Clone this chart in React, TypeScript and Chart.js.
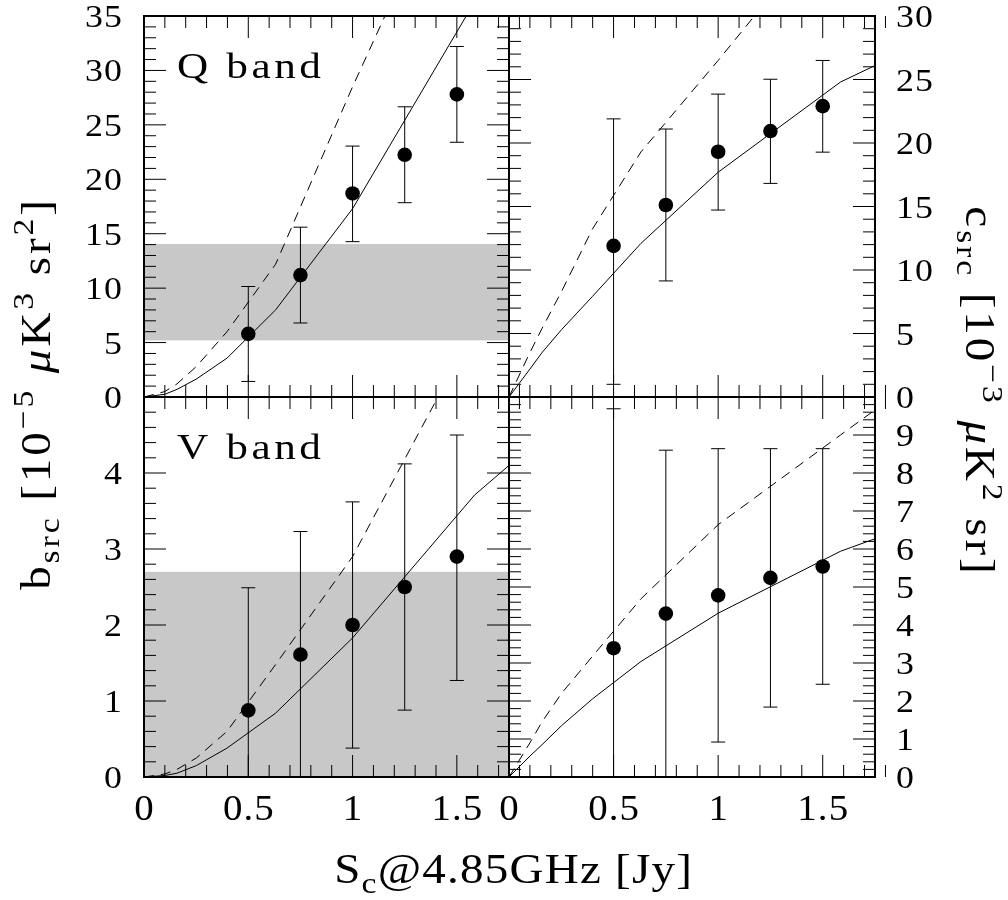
import React, { useEffect, useRef } from "react";
import { Chart, registerables } from "chart.js";
Chart.register(...registerables);

// ---------------- data ----------------
const sourceFlux = [0.5, 0.75, 1.0, 1.25, 1.5];
const modelFlux = [0, 0.1, 0.158, 0.251, 0.398, 0.631, 1.0, 1.585, 2.512];

const qBsrc = [5.8, 11.2, 18.7, 22.25, 27.8];
const qBsrcLow = [1.43, 6.8, 14.27, 17.85, 23.4];
const qBsrcHigh = [10.15, 15.6, 23.05, 26.66, 32.2];
const qBsrcModel = [0, 0.25, 0.7, 1.65, 3.57, 8.0, 17.3, 36.3, 60];
const qBsrcModelDashed = [0, 0.5, 1.2, 2.8, 6.0, 12.2, 28.5, 53, 90];
const qBsrcBand = [5.2, 14.05];

const qCsrc = [11.9, 15.12, 19.31, 20.94, 22.9];
const qCsrcLow = [1.0, 9.14, 14.72, 16.82, 19.28];
const qCsrcHigh = [21.9, 21.1, 23.85, 25.02, 26.5];
const qCsrcModel = [0, 2.2, 3.5, 5.3, 7.9, 12.1, 17.7, 24.8, 32.1];
const qCsrcModelDashed = [0, 3.5, 5.4, 8.3, 13.2, 19.3, 26.5, 38.3, 57];

const vBsrc = [0.876, 1.61, 2.0, 2.5, 2.9];
const vBsrcLow = [-0.74, -0.01, 0.38, 0.88, 1.27];
const vBsrcHigh = [2.49, 3.23, 3.62, 4.12, 4.5];
const vBsrcModel = [0, 0.02, 0.05, 0.15, 0.38, 0.84, 1.83, 3.71, 5.9];
const vBsrcModelDashed = [0, 0.04, 0.1, 0.25, 0.6, 1.48, 2.9, 5.9, 10];
const vBsrcBand = [-1, 2.7];

const vCsrc = [3.39, 4.3, 4.78, 5.24, 5.54];
const vCsrcLow = [-2.9, -0.02, 0.92, 1.84, 2.44];
const vCsrcHigh = [9.69, 8.6, 8.64, 8.64, 8.64];
const vCsrcModel = [0, 0.55, 0.85, 1.35, 2.05, 3.04, 4.31, 5.94, 7.79];
const vCsrcModelDashed = [0, 0.9, 1.45, 2.2, 3.17, 4.69, 6.64, 9.0, 12.7];

const xTicks = [0, 0.5, 1, 1.5];
const xTickLabels = ["0", "0.5", "1", "1.5"];
const yTicksQb = [0, 5, 10, 15, 20, 25, 30, 35];
const yTickLabelsQb = ["0", "5", "10", "15", "20", "25", "30", "35"];
const yTicksQc = [0, 5, 10, 15, 20, 25, 30];
const yTickLabelsQc = ["0", "5", "10", "15", "20", "25", "30"];
const yTicksVb = [0, 1, 2, 3, 4, 5];
const yTickLabelsVb = ["0", "1", "2", "3", "4", ""];
const yTicksVc = [0, 1, 2, 3, 4, 5, 6, 7, 8, 9, 10];
const yTickLabelsVc = ["0", "1", "2", "3", "4", "5", "6", "7", "8", "9", ""];

const panelNames = ["Q band", "V band"];

// ---------------- layout ----------------
const W = 1008;
const H = 900;
const COLS = [144, 509, 875];
const ROWS = [16, 397, 777];
const X_MAX = 1.75;
const X_MINOR = 0.1;
const FONT = '"Liberation Serif", "Times New Roman", serif';

type Run = { t: string; s: number; dy?: number; it?: boolean };
const leftTitle: Run[] = [
  { t: "b", s: 42 },
  { t: "src", s: 30, dy: 9 },
  { t: " [10", s: 42 },
  { t: "\u22125", s: 30, dy: -17 },
  { t: " ", s: 42 },
  { t: "\u03bc", s: 42, it: true },
  { t: "K", s: 42 },
  { t: "3", s: 30, dy: -17 },
  { t: " sr", s: 42 },
  { t: "2", s: 30, dy: -17 },
  { t: "]", s: 42 },
];
const rightTitle: Run[] = [
  { t: "c", s: 42 },
  { t: "src", s: 30, dy: 9 },
  { t: " [10", s: 42 },
  { t: "\u22123", s: 30, dy: -17 },
  { t: " ", s: 42 },
  { t: "\u03bc", s: 42, it: true },
  { t: "K", s: 42 },
  { t: "2", s: 30, dy: -17 },
  { t: " sr]", s: 42 },
];
const bottomTitle: Run[] = [
  { t: "S", s: 42 },
  { t: "c", s: 30, dy: 10 },
  { t: "@4.85GHz [Jy]", s: 42 },
];

// draws text runs with horizontal stretch sx and letter spacing ls, anchored at (x, y baseline)
function drawRuns(
  ctx: CanvasRenderingContext2D,
  runs: Run[],
  x0: number,
  y0: number,
  angle: number,
  sx: number,
  ls: number,
  align: "left" | "center" | "right"
) {
  ctx.save();
  ctx.translate(x0, y0);
  ctx.rotate(angle);
  ctx.scale(sx, 1);
  ctx.fillStyle = "#000";
  ctx.textAlign = "left";
  ctx.textBaseline = "alphabetic";
  (ctx as any).letterSpacing = "0px";
  const fontOf = (r: Run) => `${r.it ? "italic " : ""}${r.s}px ${FONT}`;
  let total = 0;
  let chars = 0;
  const ws = runs.map((r) => {
    ctx.font = fontOf(r);
    const w = ctx.measureText(r.t).width;
    total += w;
    chars += r.t.length;
    return w;
  });
  total += ls * (chars - 1);
  (ctx as any).letterSpacing = ls + "px";
  let x = align === "left" ? 0 : align === "center" ? -total / 2 : -total;
  runs.forEach((r, i) => {
    ctx.font = fontOf(r);
    ctx.fillText(r.t, x, r.dy || 0);
    x += ws[i] + ls * r.t.length;
  });
  ctx.restore();
}

type PanelOpts = {
  yMax: number;
  yMinor: number;
  yTicks: number[];
  yLabels: string[];
  yMajorEvery: number;
  labelSide: "left" | "right";
  showX: boolean;
  name?: string;
  band?: number[];
  pts: number[];
  lo: number[];
  hi: number[];
  titles?: boolean;
};

const decoPlugin = {
  id: "panelDeco",
  beforeDatasetsDraw(chart: any, _a: any, o: PanelOpts) {
    const { ctx, chartArea: a, scales } = chart;
    const xs = scales.x;
    const ys = scales.y;
    ctx.save();
    ctx.beginPath();
    ctx.rect(a.left, a.top, a.right - a.left, a.bottom - a.top);
    ctx.clip();
    if (o.band) {
      const y1 = ys.getPixelForValue(o.band[1]);
      const y0 = ys.getPixelForValue(o.band[0]);
      ctx.fillStyle = "rgb(200,200,200)";
      ctx.fillRect(a.left, y1, a.right - a.left, y0 - y1);
    }
    ctx.strokeStyle = "#000";
    ctx.lineWidth = 1;
    ctx.beginPath();
    sourceFlux.forEach((xv, i) => {
      const px = xs.getPixelForValue(xv);
      const pl = ys.getPixelForValue(o.lo[i]);
      const ph = ys.getPixelForValue(o.hi[i]);
      ctx.moveTo(px, pl);
      ctx.lineTo(px, ph);
      ctx.moveTo(px - 7, pl);
      ctx.lineTo(px + 7, pl);
      ctx.moveTo(px - 7, ph);
      ctx.lineTo(px + 7, ph);
    });
    ctx.stroke();
    ctx.restore();
  },
  afterDraw(chart: any, _a: any, o: PanelOpts) {
    const { ctx, chartArea: a, scales } = chart;
    const xs = scales.x;
    const ys = scales.y;
    ctx.save();
    ctx.strokeStyle = "#000";
    ctx.lineWidth = 1;
    ctx.beginPath();
    const nx = Math.round(X_MAX / X_MINOR);
    for (let i = 1; i <= nx; i++) {
      const v = i * X_MINOR;
      const len = i % 5 === 0 ? 22 : 12;
      const px = xs.getPixelForValue(v);
      ctx.moveTo(px, a.bottom);
      ctx.lineTo(px, a.bottom - len);
      ctx.moveTo(px, a.top);
      ctx.lineTo(px, a.top + len);
    }
    const ny = Math.round(o.yMax / o.yMinor);
    const per = Math.round(o.yMajorEvery / o.yMinor);
    for (let i = 1; i < ny; i++) {
      const v = i * o.yMinor;
      const len = i % per === 0 ? 22 : 12;
      const py = ys.getPixelForValue(v);
      ctx.moveTo(a.left, py);
      ctx.lineTo(a.left + len, py);
      ctx.moveTo(a.right, py);
      ctx.lineTo(a.right - len, py);
    }
    ctx.stroke();
    ctx.lineWidth = 2;
    ctx.strokeRect(a.left, a.top, a.right - a.left, a.bottom - a.top);
    ctx.restore();

    o.yTicks.forEach((v, i) => {
      const lab = o.yLabels[i];
      if (!lab) return;
      const py = ys.getPixelForValue(v) + 11;
      if (o.labelSide === "left") {
        drawRuns(ctx, [{ t: lab, s: 32 }], a.left - 22, py, 0, 1.12, 1, "right");
      } else {
        drawRuns(ctx, [{ t: lab, s: 32 }], a.right + 21, py, 0, 1.12, 1, "left");
      }
    });
    if (o.showX) {
      xTicks.forEach((v, i) => {
        drawRuns(ctx, [{ t: xTickLabels[i], s: 36 }], xs.getPixelForValue(v), a.bottom + 43, 0, 1.08, 1, "center");
      });
    }
    if (o.name) {
      drawRuns(ctx, [{ t: o.name, s: 36 }], a.left + 33, a.top + 62, 0, 1.2, 3, "left");
    }
    if (o.titles) {
      drawRuns(ctx, leftTitle, 50, 395, -Math.PI / 2, 1.12, 2.6, "center");
      drawRuns(ctx, rightTitle, 966, 390, Math.PI / 2, 1.12, 2.6, "center");
      drawRuns(ctx, bottomTitle, 513, 883, 0, 1.12, 1.1, "center");
    }
  },
};

type PanelDef = {
  col: number;
  row: number;
  solid: number[];
  dashed: number[];
  deco: PanelOpts;
};

const panels: PanelDef[] = [
  {
    col: 0,
    row: 0,
    solid: qBsrcModel,
    dashed: qBsrcModelDashed,
    deco: {
      yMax: 35, yMinor: 1, yMajorEvery: 5, yTicks: yTicksQb, yLabels: yTickLabelsQb,
      labelSide: "left", showX: false, name: panelNames[0], band: qBsrcBand,
      pts: qBsrc, lo: qBsrcLow, hi: qBsrcHigh,
    },
  },
  {
    col: 1,
    row: 0,
    solid: qCsrcModel,
    dashed: qCsrcModelDashed,
    deco: {
      yMax: 30, yMinor: 1, yMajorEvery: 5, yTicks: yTicksQc, yLabels: yTickLabelsQc,
      labelSide: "right", showX: false, pts: qCsrc, lo: qCsrcLow, hi: qCsrcHigh,
    },
  },
  {
    col: 0,
    row: 1,
    solid: vBsrcModel,
    dashed: vBsrcModelDashed,
    deco: {
      yMax: 5, yMinor: 0.2, yMajorEvery: 1, yTicks: yTicksVb, yLabels: yTickLabelsVb,
      labelSide: "left", showX: true, name: panelNames[1], band: vBsrcBand,
      pts: vBsrc, lo: vBsrcLow, hi: vBsrcHigh, titles: true,
    },
  },
  {
    col: 1,
    row: 1,
    solid: vCsrcModel,
    dashed: vCsrcModelDashed,
    deco: {
      yMax: 10, yMinor: 0.2, yMajorEvery: 1, yTicks: yTicksVc, yLabels: yTickLabelsVc,
      labelSide: "right", showX: true, pts: vCsrc, lo: vCsrcLow, hi: vCsrcHigh,
    },
  },
];

function Panel({ def }: { def: PanelDef }) {
  const ref = useRef<HTMLCanvasElement | null>(null);
  useEffect(() => {
    if (!ref.current) return;
    const left = COLS[def.col];
    const right = COLS[def.col + 1];
    const top = ROWS[def.row];
    const bottom = ROWS[def.row + 1];
    const chart = new Chart(ref.current, {
      type: "line",
      data: {
        datasets: [
          {
            data: modelFlux.map((x, i) => ({ x, y: def.solid[i] })),
            borderColor: "#000",
            borderWidth: 1,
            pointRadius: 0,
            tension: 0,
            fill: false,
          },
          {
            data: modelFlux.map((x, i) => ({ x, y: def.dashed[i] })),
            borderColor: "#000",
            borderWidth: 1,
            borderDash: [10, 7],
            pointRadius: 0,
            tension: 0,
            fill: false,
          },
          {
            data: sourceFlux.map((x, i) => ({ x, y: def.deco.pts[i] })),
            showLine: false,
            pointRadius: 7.3,
            pointBorderWidth: 0,
            pointBackgroundColor: "#000",
            borderColor: "#000",
          },
        ],
      },
      options: {
        responsive: false,
        animation: false,
        devicePixelRatio: 1,
        events: [],
        layout: { padding: { left, right: W - right, top, bottom: H - bottom } },
        scales: {
          x: { type: "linear", min: 0, max: X_MAX, display: false },
          y: { type: "linear", min: 0, max: def.deco.yMax, display: false },
        },
        plugins: {
          legend: { display: false },
          tooltip: { enabled: false },
          panelDeco: def.deco,
        } as any,
      },
      plugins: [decoPlugin as any],
    });
    return () => chart.destroy();
  }, [def]);
  return (
    <canvas
      ref={ref}
      width={W}
      height={H}
      style={{ position: "absolute", left: 0, top: 0, width: W, height: H }}
    />
  );
}

export default function App() {
  return (
    <div style={{ position: "absolute", left: 0, top: 0, width: W, height: H, background: "#fff", overflow: "hidden" }}>
      {panels.map((p, i) => (
        <Panel key={i} def={p} />
      ))}
    </div>
  );
}
